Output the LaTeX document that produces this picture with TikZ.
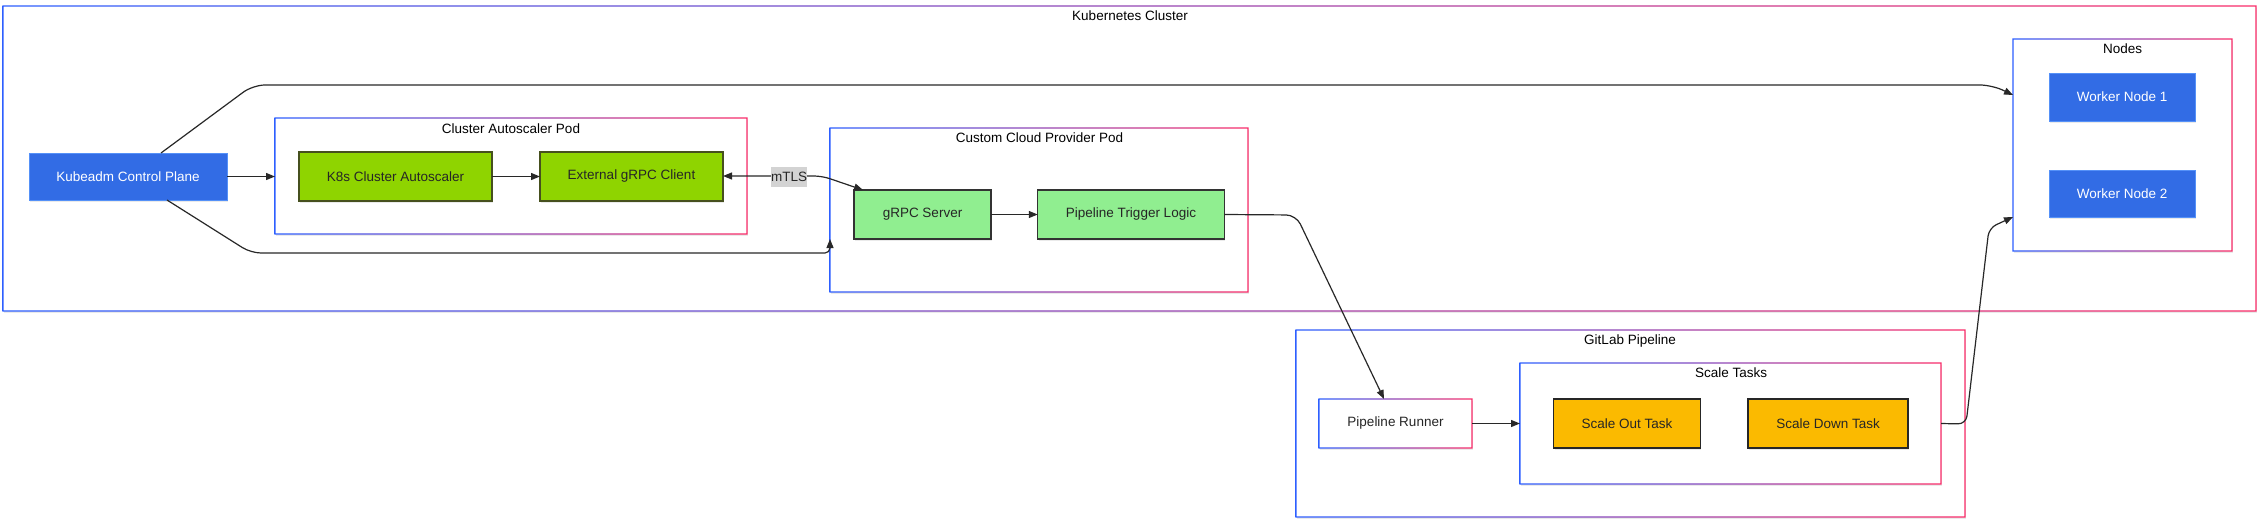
\documentclass[tikz,border=0pt]{standalone}
\usepackage{fontspec}
\setmainfont{Liberation Sans}
\usetikzlibrary{arrows.meta,shadows,calc}
\definecolor{gblue}{RGB}{45,95,255}
\definecolor{gpink}{RGB}{250,45,105}
\definecolor{kblue}{RGB}{50,108,229}
\definecolor{kblueb}{RGB}{85,145,248}
\definecolor{lime}{RGB}{143,212,0}
\definecolor{limeb}{RGB}{70,80,30}
\definecolor{lgreen}{RGB}{144,238,144}
\definecolor{amber}{RGB}{251,186,0}
\definecolor{conncol}{RGB}{40,40,40}
\definecolor{labelbg}{RGB}{211,211,211}
\newcommand\gframe[1]{%
  \shade[left color=gblue,right color=gpink,even odd rule]
    ([shift={(-0.7pt,-0.7pt)}]#1.south west) rectangle ([shift={(0.7pt,0.7pt)}]#1.north east)
    ([shift={(0.7pt,0.7pt)}]#1.south west) rectangle ([shift={(-0.7pt,-0.7pt)}]#1.north east);}
\tikzset{
  txt/.style={font=\fontsize{13.5}{16}\selectfont},
  base/.style={txt, inner sep=0pt, outer sep=0pt,
    drop shadow={shadow xshift=1pt,shadow yshift=-1.5pt,opacity=0.16}},
  container/.style={base, fill=white},
  bluebox/.style={base, fill=kblue, draw=kblueb, line width=1pt, text=white},
  limebox/.style={base, fill=lime, draw=limeb, line width=1.3pt, text=black!85},
  greenbox/.style={base, fill=lgreen, draw=black!80, line width=1.3pt, text=black!85},
  amberbox/.style={base, fill=amber, draw=black!85, line width=1.3pt, text=black!85},
  whitebox/.style={base, fill=white, text=black!85},
  ttl/.style={txt, inner sep=0pt, text=black},
  conn/.style={draw=conncol, line width=1.2pt, -{Triangle[length=9pt,width=7pt]}},
  lbl/.style={txt, fill=labelbg, inner sep=0pt, minimum width=36pt, minimum height=20pt, text=black!85},
}
\begin{document}
\begin{tikzpicture}[x=1pt,y=-1pt]
\useasboundingbox (0,0) rectangle (2261,525);
\fill[white] (0,0) rectangle (2261,525);

% containers
\node[container, minimum width=2253pt, minimum height=305pt] (cluster) at (1129.5,158.5) {};
\gframe{cluster}
\node[ttl] (clusterT) at (1130,16) {Kubernetes Cluster};

\node[container, minimum width=472pt, minimum height=116pt] (cap) at (511,176) {};
\gframe{cap}
\node[ttl] (capT) at (511,129) {Cluster Autoscaler Pod};

\node[container, minimum width=418pt, minimum height=164pt] (ccp) at (1039,210) {};
\gframe{ccp}
\node[ttl] (ccpT) at (1039.5,138) {Custom Cloud Provider Pod};

\node[container, minimum width=219pt, minimum height=212pt] (nodes) at (2122.5,145) {};
\gframe{nodes}
\node[ttl] (nodesT) at (2122.5,49) {Nodes};

\node[container, minimum width=669pt, minimum height=187pt] (gitlab) at (1630.5,423.5) {};
\gframe{gitlab}
\node[ttl] (gitlabT) at (1630,341) {GitLab Pipeline};

\node[container, minimum width=421pt, minimum height=121pt] (tasks) at (1730.5,423.5) {};
\gframe{tasks}
\node[ttl] (tasksT) at (1731,373) {Scale Tasks};

% leaf nodes
\node[bluebox, minimum width=198pt, minimum height=47pt] (kcp) at (128,176.5) {Kubeadm Control Plane};
\node[limebox, minimum width=193pt, minimum height=49pt] (k8sca) at (395.5,176.5) {K8s Cluster Autoscaler};
\node[limebox, minimum width=183pt, minimum height=49pt] (egc) at (631.5,176.5) {External gRPC Client};
\node[greenbox, minimum width=137pt, minimum height=49pt] (grpcs) at (922.5,214.5) {gRPC Server};
\node[greenbox, minimum width=186.5pt, minimum height=49pt] (ptl) at (1131,214.5) {Pipeline Trigger Logic};
\node[bluebox, minimum width=146pt, minimum height=48pt] (wn1) at (2122,97) {Worker Node 1};
\node[bluebox, minimum width=146pt, minimum height=47pt] (wn2) at (2122,193.5) {Worker Node 2};
\node[whitebox, minimum width=153pt, minimum height=49pt] (runner) at (1395.5,423.5) {Pipeline Runner};
\gframe{runner}
\node[amberbox, minimum width=146.5pt, minimum height=49pt] (sot) at (1627,423.5) {Scale Out Task};
\node[amberbox, minimum width=160pt, minimum height=49pt] (sdt) at (1828,423.5) {Scale Down Task};

% connectors
\draw[conn] (kcp.east) -- (kcp.east -| cap.west);
\draw[conn] (k8sca.east) -- (egc.west);
\draw[conn] (grpcs.east) -- (ptl.west);
\draw[conn] (runner.east) -- (tasks.west);

\coordinate (mbend) at (822,176);
\draw[conn, {Triangle[length=9pt,width=7pt]}-{Triangle[length=9pt,width=7pt]}, rounded corners=8pt]
  (egc.east |- mbend) -- (mbend) -- ([xshift=9pt]grpcs.north west);
\node[lbl] (mtls) at (789,177) {mTLS};

\coordinate (t1) at (253,85);
\coordinate (t2) at (1992,85);
\draw[conn, rounded corners=12pt] ([xshift=132pt]kcp.north west) -- (t1) -- (t2) -- ([yshift=50pt]nodes.west);

\coordinate (b1) at (251,253);
\coordinate (b2) at (830,253);
\draw[conn, rounded corners=10pt] ([xshift=138pt]kcp.south west) -- (b1) [rounded corners=5pt] -- (b2) -- ([yshift=-29pt]ccp.west);

\coordinate (p1) at (1296,215);
\draw[conn, rounded corners=10pt] (ptl.east) -- (p1) -- ([xshift=-11.5pt]runner.north);

\coordinate (s1) at (1966,424);
\coordinate (s2) at (1989,228);
\draw[conn, rounded corners=8pt] (tasks.east) -- (s1) -- (s2) -- ([yshift=-72pt]nodes.west);
\end{tikzpicture}
\end{document}
